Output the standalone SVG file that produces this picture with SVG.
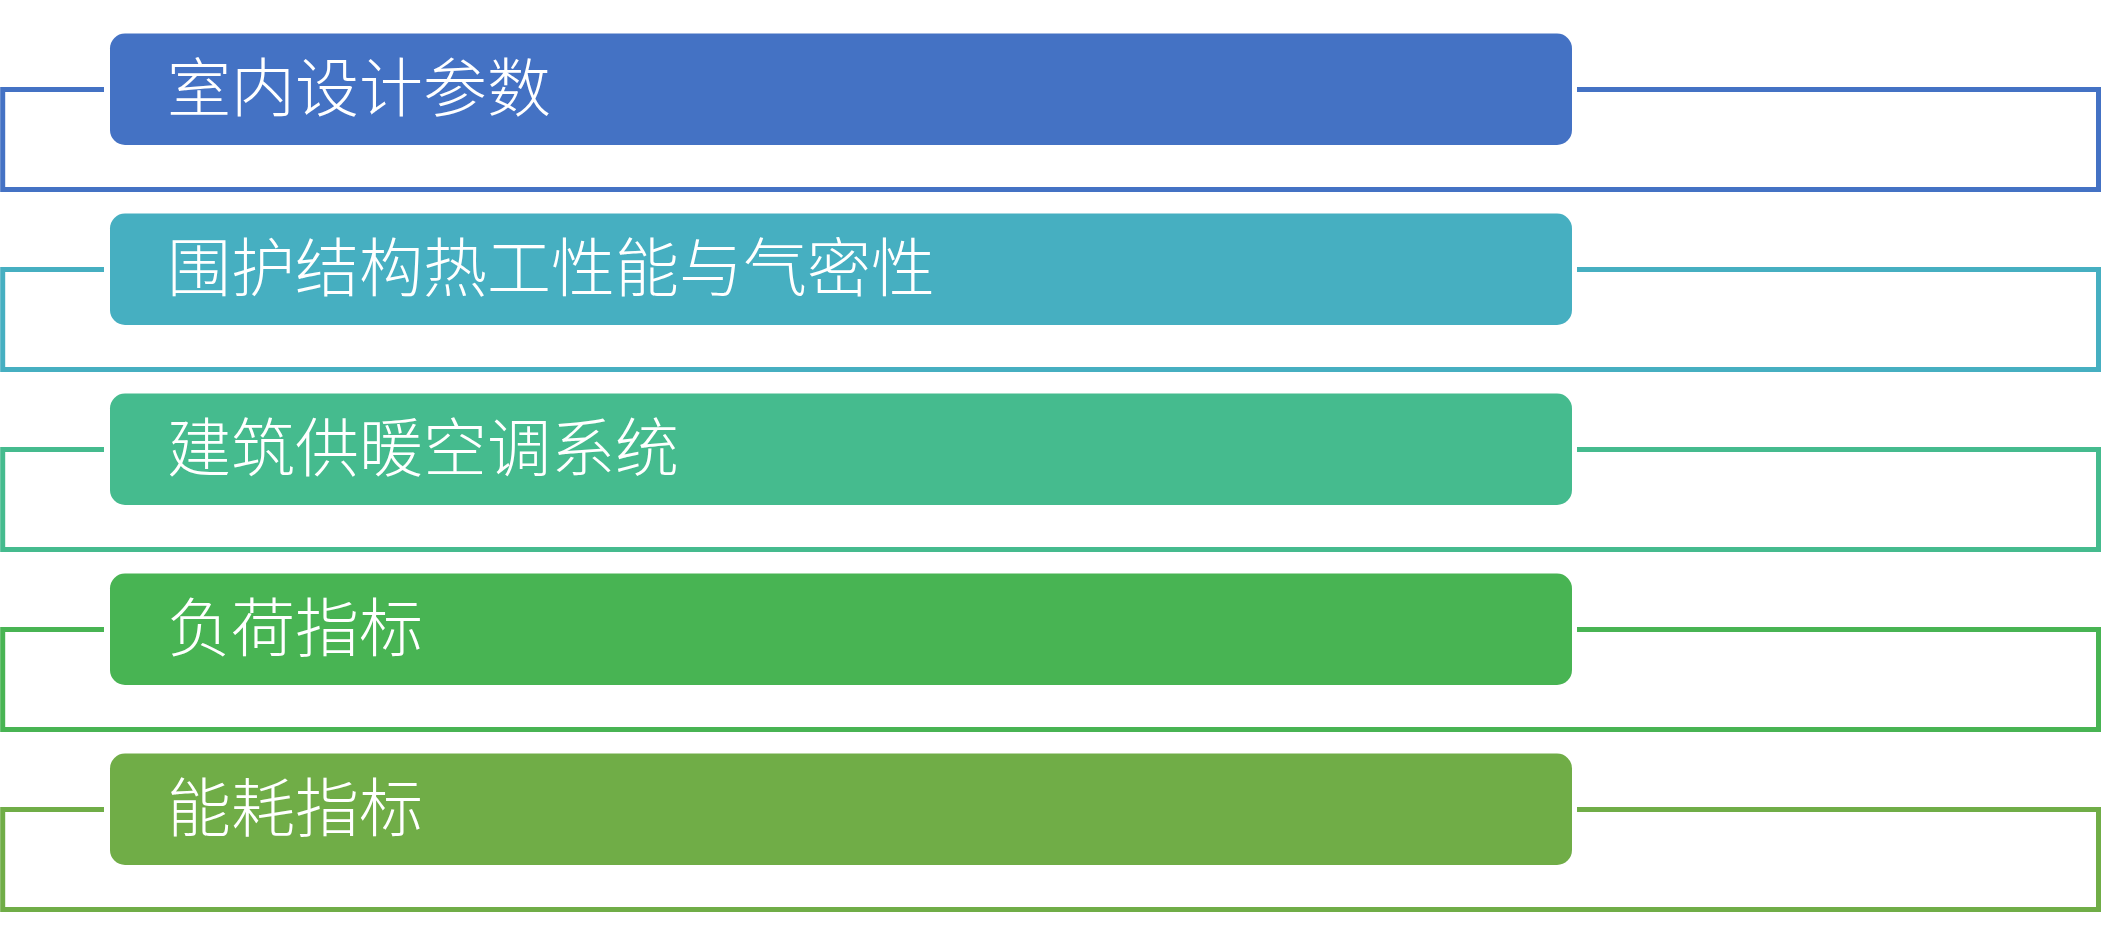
<svg xmlns="http://www.w3.org/2000/svg" width="2101" height="939" viewBox="0 0 2101 939">
<style>
.box{stroke:none}
.lbl{font-family:"Noto Sans CJK SC","Noto Sans",sans-serif;font-weight:300;font-size:64px;fill:#FFFFFF}
.conn{fill:none;stroke-width:5}
</style>
<rect width="2101" height="939" fill="#FFFFFF"/>
<g id="connectors">
<path class="conn" stroke="#4472C4" d="M1577,89.5 H2098.5 V189.5 H2.7 V89.5 H104"/>
<path class="conn" stroke="#46AFC1" d="M1577,269.5 H2098.5 V369.5 H2.7 V269.5 H104"/>
<path class="conn" stroke="#45BB8E" d="M1577,449.5 H2098.5 V549.5 H2.7 V449.5 H104"/>
<path class="conn" stroke="#48B453" d="M1577,629.5 H2098.5 V729.5 H2.7 V629.5 H104"/>
<path class="conn" stroke="#70AD47" d="M1577,809.5 H2098.5 V909.5 H2.7 V809.5 H104"/>
</g>
<g id="node1">
<rect class="box" x="110" y="33.5" width="1462" height="111.5" rx="15" fill="#4472C4"/>
<text class="lbl" x="167" y="111">室内设计参数</text>
</g>
<g id="node2">
<rect class="box" x="110" y="213.5" width="1462" height="111.5" rx="15" fill="#46AFC1"/>
<text class="lbl" x="167" y="291">围护结构热工性能与气密性</text>
</g>
<g id="node3">
<rect class="box" x="110" y="393.5" width="1462" height="111.5" rx="15" fill="#45BB8E"/>
<text class="lbl" x="167" y="471">建筑供暖空调系统</text>
</g>
<g id="node4">
<rect class="box" x="110" y="573.5" width="1462" height="111.5" rx="15" fill="#48B453"/>
<text class="lbl" x="167" y="651">负荷指标</text>
</g>
<g id="node5">
<rect class="box" x="110" y="753.5" width="1462" height="111.5" rx="15" fill="#70AD47"/>
<text class="lbl" x="167" y="831">能耗指标</text>
</g>
</svg>
